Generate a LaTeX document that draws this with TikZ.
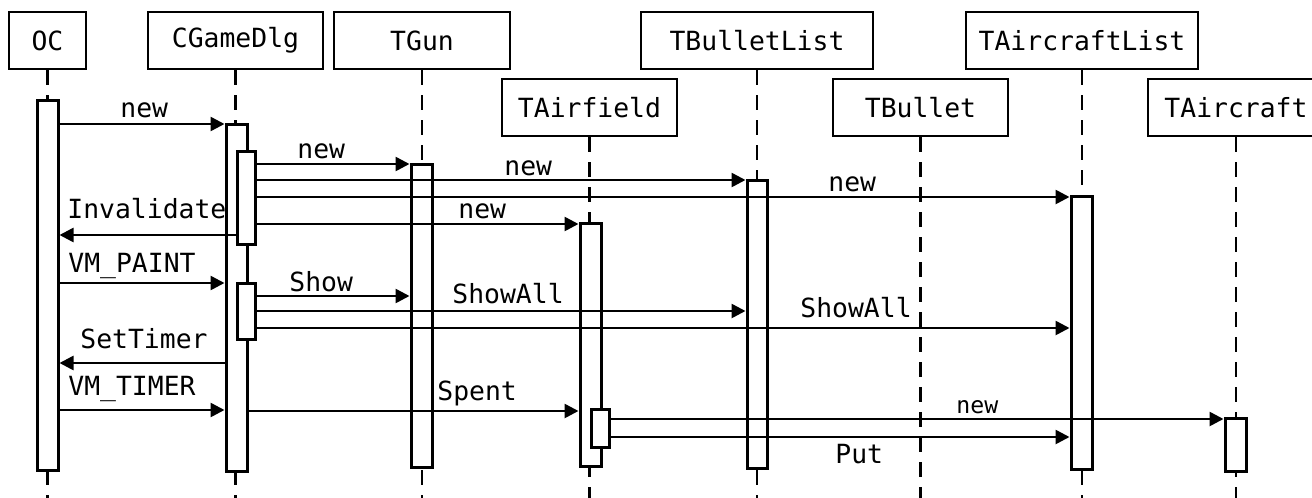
\documentclass[tikz,border=0pt]{standalone}
\usepackage{fontspec}
\setmonofont{DejaVu Sans Mono}
\usetikzlibrary{arrows.meta}
\tikzset{
  obj/.style={draw, line width=1.4pt, fill=white, minimum height=28.5pt, inner sep=0pt,
    font=\ttfamily\fontsize{13.2}{15}\selectfont},
  life/.style={line width=1.1pt, dash pattern=on 7.5pt off 5pt},
  bar/.style={draw, line width=1.5pt, fill=white, inner sep=0pt},
  msg/.style={line width=1.3pt, -{Triangle[length=7pt,width=7pt]}},
  lbl/.style={anchor=base west, inner sep=0pt, font=\ttfamily\fontsize{13.2}{15}\selectfont},
  slbl/.style={anchor=base west, inner sep=0pt, font=\ttfamily\fontsize{11.6}{13}\selectfont}
}
\begin{document}
\begin{tikzpicture}[x=0.5pt, y=-0.5pt]
\useasboundingbox (0,0) rectangle (1312,498);
\clip (0,0) rectangle (1312,498);
% objects
\node[obj, minimum width=38.5pt] (oc) at (47.5,40.5) {OC};
\node[obj, minimum width=87.5pt] (cg) at (235.5,40.5) {CGameDlg};
\node[obj, minimum width=88pt] (tg) at (422,40.5) {TGun};
\node[obj, minimum width=87.5pt] (ta) at (589.5,107.5) {TAirfield};
\node[obj, minimum width=116pt] (tbl) at (757,40.5) {TBulletList};
\node[obj, minimum width=87.5pt] (tb) at (920.5,107.5) {TBullet};
\node[obj, minimum width=116pt] (tal) at (1082,40.5) {TAircraftList};
\node[obj, minimum width=88pt] (tac) at (1236,107.5) {TAircraft};
% lifelines
\foreach \n in {oc,cg,tg,ta,tbl,tb,tal,tac}
  \draw[life] (\n.south) -- (\n.south |- 0,498);
% activation bars
\node[bar, minimum width=10.5pt, minimum height=185pt] (ocb) at (47.5,285) {};
\node[bar, minimum width=10.5pt, minimum height=173.5pt] (cgb) at (236.5,297.5) {};
\node[bar, minimum width=9pt, minimum height=46.5pt] (cgi1) at (246,197.5) {};
\node[bar, minimum width=9pt, minimum height=28pt] (cgi2) at (246,311) {};
\node[bar, minimum width=10.5pt, minimum height=151.5pt] (tgb) at (421.5,315.5) {};
\node[bar, minimum width=10.5pt, minimum height=121.5pt] (tab) at (590.5,344.5) {};
\node[bar, minimum width=9pt, minimum height=19pt] (tai) at (600,428) {};
\node[bar, minimum width=10pt, minimum height=144pt] (tblb) at (757,324) {};
\node[bar, minimum width=10.5pt, minimum height=136.5pt] (talb) at (1081.5,332.5) {};
\node[bar, minimum width=10.5pt, minimum height=26.5pt] (tacb) at (1235.5,444.5) {};
% messages
\draw[msg] (ocb.east |- 0,124) -- (cgb.west |- 0,124);
\draw[msg] (cgi1.east |- 0,164) -- (tgb.west |- 0,164);
\draw[msg] (cgi1.east |- 0,180) -- (tblb.west |- 0,180);
\draw[msg] (cgi1.east |- 0,197) -- (talb.west |- 0,197);
\draw[msg] (cgi1.east |- 0,224) -- (tab.west |- 0,224);
\draw[msg] (cgi1.west |- 0,235) -- (ocb.east |- 0,235);
\draw[msg] (ocb.east |- 0,283) -- (cgb.west |- 0,283);
\draw[msg] (cgi2.east |- 0,296) -- (tgb.west |- 0,296);
\draw[msg] (cgi2.east |- 0,311) -- (tblb.west |- 0,311);
\draw[msg] (cgi2.east |- 0,328) -- (talb.west |- 0,328);
\draw[msg] (cgb.west |- 0,363) -- (ocb.east |- 0,363);
\draw[msg] (ocb.east |- 0,410) -- (cgb.west |- 0,410);
\draw[msg] (cgb.east |- 0,411) -- (tab.west |- 0,411);
\draw[msg] (tai.east |- 0,419) -- (tacb.west |- 0,419);
\draw[msg] (tai.east |- 0,437) -- (talb.west |- 0,437);
% labels
\node[lbl] (l1) at (120,117) {new};
\node[lbl] (l2) at (297,158) {new};
\node[lbl] (l3) at (504,175) {new};
\node[lbl] (l4) at (828,191) {new};
\node[lbl] (l5) at (458,218) {new};
\node[lbl] (l6) at (67,218) {Invalidate};
\node[lbl] (l7) at (68,272) {VM\_PAINT};
\node[lbl] (l8) at (289,291) {Show};
\node[lbl] (l9) at (452,303) {ShowAll};
\node[lbl] (l10) at (800,317) {ShowAll};
\node[lbl] (l11) at (80,348) {SetTimer};
\node[lbl] (l12) at (68,395) {VM\_TIMER};
\node[lbl] (l13) at (437,400) {Spent};
\node[slbl] (l14) at (956,413) {new};
\node[lbl] (l15) at (835,463) {Put};
\end{tikzpicture}
\end{document}
